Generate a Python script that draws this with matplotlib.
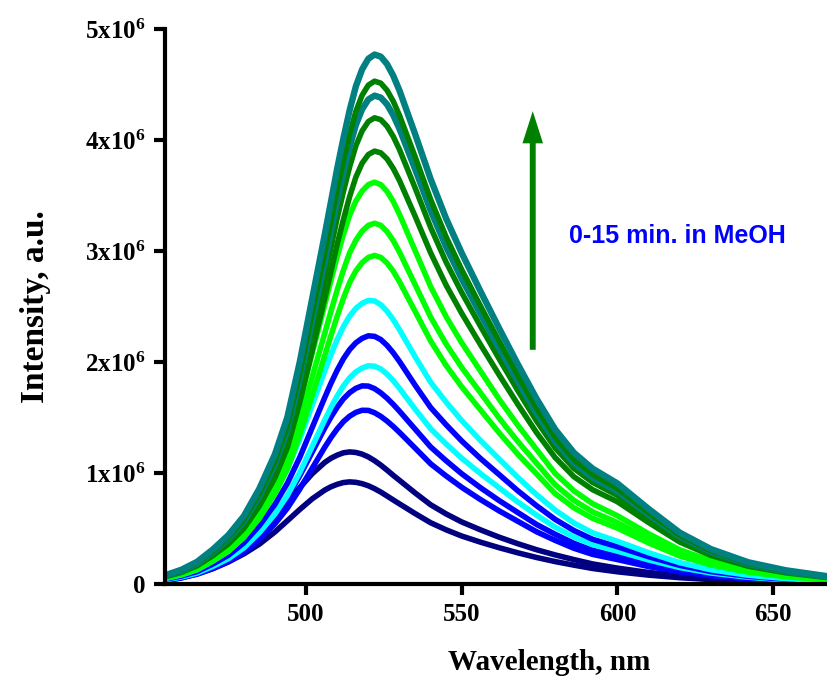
import matplotlib
matplotlib.use("Agg")
import matplotlib.pyplot as plt

plt.rcParams['font.family'] = ['Liberation Serif', 'DejaVu Serif']
plt.rcParams['font.weight'] = 'bold'
plt.rcParams['mathtext.fontset'] = 'custom'
plt.rcParams['mathtext.bf'] = 'Liberation Serif:bold'
plt.rcParams['mathtext.rm'] = 'Liberation Serif:bold'

# Wavelength grid (nm)
wavelength = [455, 460, 465, 470, 475, 480, 485, 490, 494, 498, 502,
              506, 508, 510, 512, 514, 516, 518, 520, 522, 524, 526, 528, 530,
              535, 540, 545, 550, 556, 562, 568, 574, 580, 586, 592, 600, 610, 620, 630, 642,
              654, 667]

# Intensities (x10^6 a.u.), time series 0 -> 15 min
c01 = [0.028, 0.055, 0.092, 0.138, 0.198, 0.271, 0.359, 0.469, 0.570, 0.672, 0.768,
       0.846, 0.876, 0.898, 0.914, 0.920, 0.916, 0.904, 0.885, 0.859, 0.828, 0.793, 0.757, 0.722,
       0.635, 0.552, 0.488, 0.432, 0.377, 0.327, 0.281, 0.239, 0.202, 0.170, 0.140, 0.110, 0.080,
       0.057, 0.040, 0.025, 0.016, 0.009]
c02 = [0.036, 0.071, 0.119, 0.179, 0.256, 0.351, 0.464, 0.607, 0.738, 0.869, 0.994,
       1.095, 1.133, 1.161, 1.182, 1.190, 1.185, 1.170, 1.145, 1.111, 1.071, 1.026, 0.979, 0.934,
       0.821, 0.714, 0.631, 0.559, 0.488, 0.422, 0.363, 0.309, 0.262, 0.220, 0.181, 0.143, 0.104,
       0.074, 0.051, 0.032, 0.020, 0.012]
c03 = [0.035, 0.057, 0.088, 0.138, 0.201, 0.283, 0.400, 0.542, 0.683, 0.856, 1.044,
       1.232, 1.319, 1.397, 1.463, 1.512, 1.546, 1.565, 1.564, 1.543, 1.510, 1.468, 1.419, 1.366,
       1.225, 1.083, 0.973, 0.871, 0.761, 0.659, 0.565, 0.471, 0.393, 0.322, 0.267, 0.220, 0.157,
       0.110, 0.074, 0.046, 0.028, 0.016]
c04 = [0.039, 0.064, 0.100, 0.158, 0.229, 0.322, 0.456, 0.618, 0.779, 0.976, 1.190,
       1.405, 1.504, 1.593, 1.668, 1.724, 1.763, 1.785, 1.783, 1.760, 1.722, 1.674, 1.618, 1.557,
       1.396, 1.235, 1.110, 0.993, 0.868, 0.752, 0.644, 0.537, 0.448, 0.367, 0.304, 0.251, 0.179,
       0.125, 0.084, 0.052, 0.032, 0.018]
c05 = [0.039, 0.063, 0.099, 0.158, 0.227, 0.325, 0.463, 0.630, 0.798, 1.005, 1.241,
       1.478, 1.590, 1.694, 1.785, 1.858, 1.911, 1.946, 1.966, 1.962, 1.937, 1.891, 1.832, 1.763,
       1.576, 1.399, 1.261, 1.133, 0.995, 0.867, 0.739, 0.621, 0.512, 0.424, 0.355, 0.296, 0.217,
       0.148, 0.099, 0.061, 0.037, 0.022]
c06 = [0.045, 0.072, 0.112, 0.179, 0.258, 0.370, 0.526, 0.717, 0.907, 1.142, 1.411,
       1.680, 1.808, 1.926, 2.029, 2.112, 2.173, 2.213, 2.236, 2.231, 2.202, 2.150, 2.083, 2.005,
       1.792, 1.590, 1.434, 1.288, 1.131, 0.986, 0.840, 0.706, 0.582, 0.482, 0.403, 0.336, 0.246,
       0.168, 0.112, 0.069, 0.043, 0.025]
c07 = [0.051, 0.082, 0.128, 0.205, 0.294, 0.422, 0.602, 0.819, 1.037, 1.306, 1.613,
       1.920, 2.066, 2.202, 2.319, 2.414, 2.483, 2.529, 2.555, 2.550, 2.516, 2.458, 2.381, 2.291,
       2.048, 1.818, 1.638, 1.472, 1.293, 1.126, 0.960, 0.806, 0.666, 0.550, 0.461, 0.384, 0.282,
       0.192, 0.128, 0.079, 0.049, 0.028]
c08 = [0.053, 0.086, 0.133, 0.207, 0.296, 0.420, 0.592, 0.814, 1.036, 1.347, 1.702,
       2.057, 2.238, 2.412, 2.575, 2.717, 2.821, 2.895, 2.942, 2.960, 2.942, 2.892, 2.818, 2.723,
       2.457, 2.190, 1.968, 1.776, 1.569, 1.362, 1.169, 0.992, 0.814, 0.687, 0.592, 0.503, 0.370,
       0.252, 0.172, 0.107, 0.065, 0.038]
c09 = [0.059, 0.094, 0.146, 0.228, 0.325, 0.462, 0.650, 0.894, 1.138, 1.479, 1.869,
       2.259, 2.457, 2.649, 2.828, 2.984, 3.097, 3.179, 3.231, 3.250, 3.231, 3.175, 3.094, 2.990,
       2.698, 2.405, 2.161, 1.950, 1.723, 1.495, 1.284, 1.089, 0.894, 0.754, 0.650, 0.553, 0.406,
       0.276, 0.189, 0.117, 0.072, 0.042]
c10 = [0.065, 0.105, 0.163, 0.253, 0.362, 0.514, 0.724, 0.996, 1.267, 1.647, 2.082,
       2.516, 2.737, 2.950, 3.149, 3.323, 3.450, 3.540, 3.598, 3.620, 3.598, 3.537, 3.446, 3.330,
       3.005, 2.679, 2.407, 2.172, 1.919, 1.665, 1.430, 1.213, 0.996, 0.840, 0.724, 0.615, 0.453,
       0.308, 0.210, 0.130, 0.080, 0.047]
c11 = [0.066, 0.105, 0.164, 0.254, 0.359, 0.499, 0.702, 0.956, 1.229, 1.638, 2.106,
       2.574, 2.816, 3.062, 3.284, 3.491, 3.666, 3.791, 3.869, 3.900, 3.884, 3.830, 3.744, 3.635,
       3.315, 2.984, 2.691, 2.438, 2.157, 1.884, 1.619, 1.365, 1.139, 0.967, 0.850, 0.741, 0.554,
       0.378, 0.257, 0.160, 0.101, 0.059]
c12 = [0.071, 0.113, 0.176, 0.273, 0.386, 0.538, 0.756, 1.029, 1.323, 1.764, 2.268,
       2.772, 3.032, 3.297, 3.536, 3.759, 3.948, 4.082, 4.166, 4.200, 4.183, 4.124, 4.032, 3.914,
       3.570, 3.213, 2.898, 2.625, 2.323, 2.029, 1.743, 1.470, 1.226, 1.042, 0.916, 0.798, 0.596,
       0.407, 0.277, 0.172, 0.109, 0.063]
c13 = [0.075, 0.119, 0.185, 0.286, 0.405, 0.563, 0.792, 1.078, 1.386, 1.848, 2.376,
       2.904, 3.177, 3.454, 3.705, 3.938, 4.136, 4.277, 4.365, 4.400, 4.382, 4.321, 4.224, 4.101,
       3.740, 3.366, 3.036, 2.750, 2.433, 2.125, 1.826, 1.540, 1.285, 1.091, 0.959, 0.836, 0.625,
       0.427, 0.290, 0.180, 0.114, 0.066]
c14 = [0.077, 0.122, 0.190, 0.294, 0.417, 0.580, 0.815, 1.110, 1.427, 1.903, 2.446,
       2.990, 3.271, 3.556, 3.814, 4.054, 4.258, 4.403, 4.494, 4.530, 4.512, 4.448, 4.349, 4.222,
       3.851, 3.465, 3.126, 2.831, 2.505, 2.188, 1.880, 1.586, 1.323, 1.123, 0.988, 0.861, 0.643,
       0.439, 0.299, 0.186, 0.118, 0.068]
c15 = [0.081, 0.129, 0.200, 0.310, 0.439, 0.611, 0.859, 1.169, 1.503, 2.003, 2.576,
       3.148, 3.444, 3.744, 4.016, 4.269, 4.484, 4.636, 4.732, 4.770, 4.751, 4.684, 4.579, 4.446,
       4.055, 3.649, 3.291, 2.981, 2.638, 2.304, 1.980, 1.670, 1.393, 1.183, 1.040, 0.906, 0.677,
       0.463, 0.315, 0.196, 0.124, 0.072]

series = [c01, c02, c03, c04, c05, c06, c07, c08, c09, c10, c11, c12, c13, c14, c15]
colors = ['#000080', '#000080', '#0000FF', '#0000FF', '#00FFFF', '#0000FF', '#00FFFF',
          '#00FF00', '#00FF00', '#00FF00', '#008000', '#008000', '#008080', '#008000', '#008080']
scale = 1e6

xticks = [500, 550, 600, 650]
yticks = [0, 1e6, 2e6, 3e6, 4e6, 5e6]
ytick_labels = ['0', r'$\mathbf{1x10^{6}}$', r'$\mathbf{2x10^{6}}$', r'$\mathbf{3x10^{6}}$',
                r'$\mathbf{4x10^{6}}$', r'$\mathbf{5x10^{6}}$']

fig = plt.figure(figsize=(8.27, 6.84), dpi=100)
ax = fig.add_axes([165/827, 100/684, 662/827, 555/684])

for s, c in zip(series, colors):
    lw = 4.6 if c == '#008080' else 4.0
    ax.plot(wavelength, [v * scale for v in s], color=c, lw=lw,
            solid_joinstyle='round', solid_capstyle='round')

ax.set_xlim(454.7, 667.3)
ax.set_ylim(0, 5e6)
ax.set_xticks(xticks)
ax.set_xticklabels([str(t) for t in xticks])
ax.set_yticks(yticks)
ax.set_yticklabels(ytick_labels)

for sp in ['top', 'right']:
    ax.spines[sp].set_visible(False)
for sp in ['left', 'bottom']:
    ax.spines[sp].set_linewidth(3)
ax.tick_params(axis='both', direction='out', length=8, width=3, pad=6, labelsize=18)

ax.set_xlabel('Wavelength, nm', fontweight='bold', fontsize=21)
ax.xaxis.set_label_coords(0.58, -0.117)
ax.set_ylabel('Intensity, a.u.', fontweight='bold', fontsize=24)
ax.yaxis.set_label_coords(-0.172, 0.5)

# arrow and annotation
ax.arrow(572.8, 2.11e6, 0, 2.15e6, width=1.9, head_width=6.6, head_length=0.29e6,
         length_includes_head=True, color='#008000', ec='none')
ax.text(619.3, 3.135e6, '0-15 min. in MeOH', color='#0000FF', fontfamily='Liberation Sans',
        fontweight='bold', fontsize=18, ha='center', va='center')

fig.savefig('out.png', dpi=100)
